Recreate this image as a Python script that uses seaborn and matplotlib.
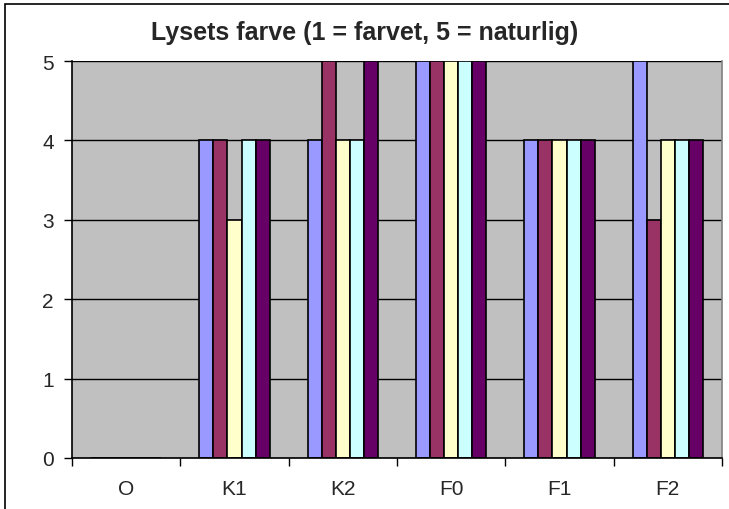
import pandas as pd
import matplotlib.pyplot as plt
import seaborn as sns
from matplotlib.patches import Rectangle

categories = ["O", "K1", "K2", "F0", "F1", "F2"]
series = ["S1", "S2", "S3", "S4", "S5"]
values = {
    "S1": [0, 4, 4, 5, 4, 5],
    "S2": [0, 4, 5, 5, 4, 3],
    "S3": [0, 3, 4, 5, 4, 4],
    "S4": [0, 4, 4, 5, 4, 4],
    "S5": [0, 4, 5, 5, 4, 4],
}
colors = ["#9999FF", "#993366", "#FFFFCC", "#CCFFFF", "#660066"]

rows = []
for s in series:
    for c, v in zip(categories, values[s]):
        rows.append({"Kategori": c, "Serie": s, "Værdi": v})
df = pd.DataFrame(rows)

sns.set_style("white")
plt.rcParams["font.family"] = ["Liberation Sans", "DejaVu Sans"]

fig = plt.figure(figsize=(7.29, 5.10), dpi=100)
ax = fig.add_axes([72 / 729, 1 - 459 / 510, 650 / 729, 397 / 510])
ax.set_facecolor("#C0C0C0")

sns.barplot(
    data=df,
    x="Kategori",
    y="Værdi",
    hue="Serie",
    hue_order=series,
    order=categories,
    palette=colors,
    saturation=1,
    width=0.65,
    gap=0,
    edgecolor="black",
    linewidth=1.2,
    legend=False,
    ax=ax,
)

ax.set_ylim(0, 5)
ax.set_xlim(-0.5, 5.5)
ax.set_yticks(range(6))
ax.yaxis.grid(True, color="black", linewidth=1)
ax.set_axisbelow(True)

ax.set_xticks([i - 0.5 for i in range(7)], minor=True)
ax.tick_params(axis="x", which="major", length=0, pad=15, labelsize=15)
ax.tick_params(axis="x", which="minor", length=6, width=1, color="black",
               direction="out", bottom=True)
ax.tick_params(axis="y", length=6, width=1, color="black", direction="out",
               left=True, labelsize=15, pad=7)

ax.spines["top"].set_visible(False)
ax.spines["right"].set_color("#808080")
ax.spines["right"].set_linewidth(1.2)
ax.spines["left"].set_color("black")
ax.spines["bottom"].set_color("black")
ax.spines["left"].set_linewidth(1.2)
ax.spines["bottom"].set_linewidth(1.2)

ax.set_xlabel("")
ax.set_ylabel("")

fig.text(0.5, 1 - 33 / 510, "Lysets farve (1 = farvet, 5 = naturlig)",
         ha="center", va="center", fontsize=18, fontweight="bold")

fig.patches.append(Rectangle((5 / 729, -0.1), 1.2, (1 - 5 / 510) + 0.1,
                             transform=fig.transFigure, fill=False,
                             edgecolor="black", linewidth=1.2))

fig.savefig("out.png", dpi=100)
